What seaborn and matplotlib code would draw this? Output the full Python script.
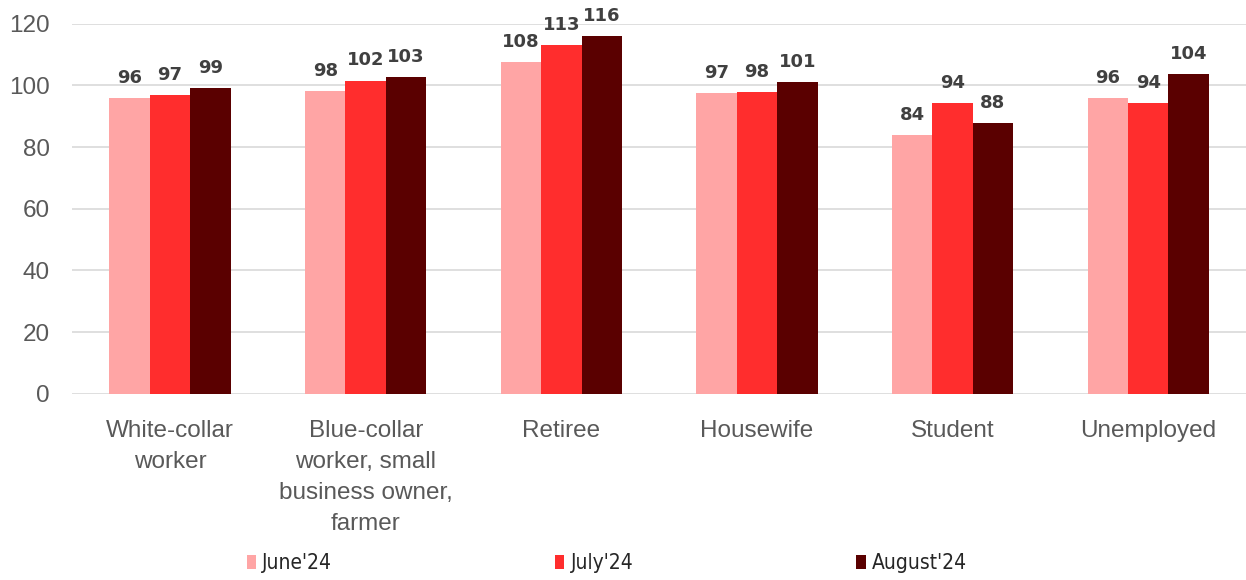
import pandas as pd
import matplotlib.pyplot as plt
import seaborn as sns

# values
categories = ['White-collar\nworker', 'Blue-collar\nworker, small\nbusiness owner,\nfarmer',
              'Retiree', 'Housewife', 'Student', 'Unemployed']
months = ["June'24", "July'24", "August'24"]
june = [96.0, 98.1, 107.6, 97.4, 84.0, 95.8]
july = [96.8, 101.6, 113.2, 97.8, 94.4, 94.2]
august = [99.1, 102.6, 116.1, 101.0, 87.9, 103.7]
colors = ['#FFA5A5', '#FF2D2D', '#5A0000']

df = pd.DataFrame({
    'group': categories * 3,
    'month': [m for m in months for _ in categories],
    'value': june + july + august,
})

sns.set_style('white')
plt.rcParams['font.family'] = ['Liberation Sans', 'DejaVu Sans']
plt.rcParams['ytick.major.pad'] = 16
plt.rcParams['xtick.major.pad'] = 19

fig = plt.figure(figsize=(12.46, 5.8), dpi=100)
ax = fig.add_axes([0.058, 0.321, 0.942, 0.638])

sns.barplot(data=df, x='group', y='value', hue='month', palette=colors,
            width=0.62, edgecolor='none', saturation=1, legend=True, ax=ax)

for cont in ax.containers:
    ax.bar_label(cont, fmt='{:.0f}', padding=8, fontsize=13, color='#404040',
                 fontweight='bold', family='DejaVu Sans')

ax.set_ylim(0, 120)
ax.set_yticks(range(0, 121, 20))
ax.yaxis.grid(True, color='#D9D9D9', linewidth=1.2)
ax.set_axisbelow(True)
sns.despine(ax=ax, left=True, bottom=True)
ax.tick_params(axis='both', length=0, labelsize=17.5, labelcolor='#595959')
for lbl in ax.get_xticklabels():
    lbl.set_linespacing(1.53)
ax.set_xlabel('')
ax.set_ylabel('')

handles, labels = ax.get_legend_handles_labels()
ax.get_legend().remove()
fig.legend(handles, labels, loc='center', bbox_to_anchor=(0.487, 0.029), ncol=3,
           frameon=False, columnspacing=10.7, handlelength=0.45, handleheight=0.7,
           handletextpad=0.3,
           prop={'family': 'DejaVu Sans', 'stretch': 'condensed', 'size': 15})

fig.savefig('out.png', dpi=100)
